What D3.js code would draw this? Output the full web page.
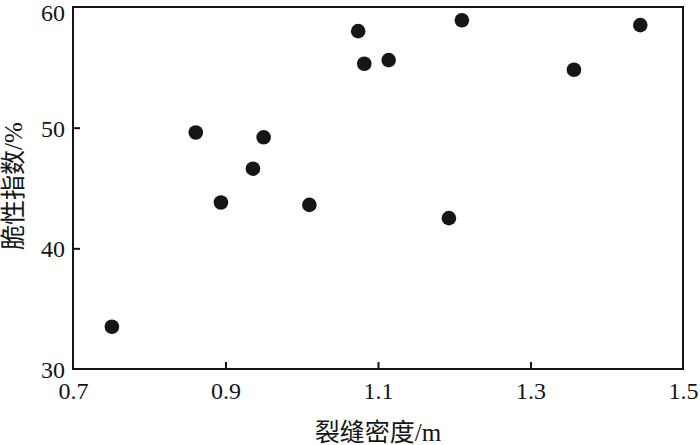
<!DOCTYPE html>
<html>
<head>
<meta charset="utf-8">
<script src="https://cdn.jsdelivr.net/npm/d3@7/dist/d3.min.js"></script>
<style>
  html, body { margin: 0; padding: 0; background: #fff; }
  svg { display: block; }
</style>
</head>
<body>
<svg id="chart" width="700" height="445"></svg>
<script>
// Data
const crackDensity = [0.751, 0.861, 0.894, 0.936, 0.950, 1.010, 1.074, 1.082, 1.114, 1.193, 1.210, 1.357, 1.444];
const brittleness  = [33.5, 49.6, 43.8, 46.6, 49.2, 43.6, 58.0, 55.3, 55.6, 42.5, 58.9, 54.8, 58.5];
const xTicks = [0.7, 0.9, 1.1, 1.3, 1.5];
const yTicks = [30, 40, 50, 60];
const xTitle = "裂缝密度/m";
const yTitle = "脆性指数/%";

(function () {
const svg = d3.select("#chart");
const pLeft = 73, pRight = 683, pTop = 7, pBottom = 369;
const ink = "#141414";
const numFont = "'Liberation Serif', 'Times New Roman', serif";
const cjkFont = "'Liberation Serif', 'Noto Sans CJK SC', serif";

const x = d3.scaleLinear().domain([0.7, 1.5]).range([pLeft, pRight]);
const y = d3.scaleLinear().domain([30, 60]).range([pBottom, pTop]);

// frame
svg.append("rect")
  .attr("x", pLeft).attr("y", pTop)
  .attr("width", pRight - pLeft).attr("height", pBottom - pTop)
  .attr("fill", "none").attr("stroke", ink).attr("stroke-width", 2);

// x axis (ticks inward)
const xAxis = svg.append("g").attr("transform", `translate(0,${pBottom})`)
  .call(d3.axisBottom(x).tickValues(xTicks).tickSizeInner(-7).tickSizeOuter(0)
    .tickPadding(13).tickFormat(d3.format(".1f")));
xAxis.select(".domain").remove();
xAxis.selectAll(".tick line").attr("stroke", ink).attr("stroke-width", 2)
  .filter(d => d === 0.7 || d === 1.5).remove();
xAxis.selectAll(".tick text").attr("fill", ink)
  .style("font-family", numFont).style("font-size", "24px")
  .attr("dy", "0.71em").attr("y", 13);

// y axis (ticks inward)
const yAxis = svg.append("g").attr("transform", `translate(${pLeft},0)`)
  .call(d3.axisLeft(y).tickValues(yTicks).tickSizeInner(-7).tickSizeOuter(0)
    .tickPadding(8).tickFormat(d3.format("d")));
yAxis.select(".domain").remove();
yAxis.selectAll(".tick line").attr("stroke", ink).attr("stroke-width", 2)
  .filter(d => d === 30 || d === 60).remove();
yAxis.selectAll(".tick text").attr("fill", ink)
  .style("font-family", numFont).style("font-size", "24px")
  .attr("x", -8)
  .attr("dy", d => d === 60 ? "0.55em" : "0.35em");

// points
svg.append("g").selectAll("circle")
  .data(crackDensity.map((v, i) => [v, brittleness[i]]))
  .join("circle")
  .attr("cx", d => x(d[0]))
  .attr("cy", d => y(d[1]))
  .attr("r", 7.3)
  .attr("fill", "#161616");

// axis titles
svg.append("text")
  .attr("x", 378).attr("y", 441)
  .attr("text-anchor", "middle")
  .attr("fill", ink)
  .style("font-family", cjkFont).style("font-size", "25px")
  .text(xTitle);

svg.append("text")
  .attr("transform", "translate(22,186) rotate(-90)")
  .attr("text-anchor", "middle")
  .attr("fill", ink)
  .style("font-family", cjkFont).style("font-size", "25px")
  .text(yTitle);
})();
</script>
</body>
</html>
